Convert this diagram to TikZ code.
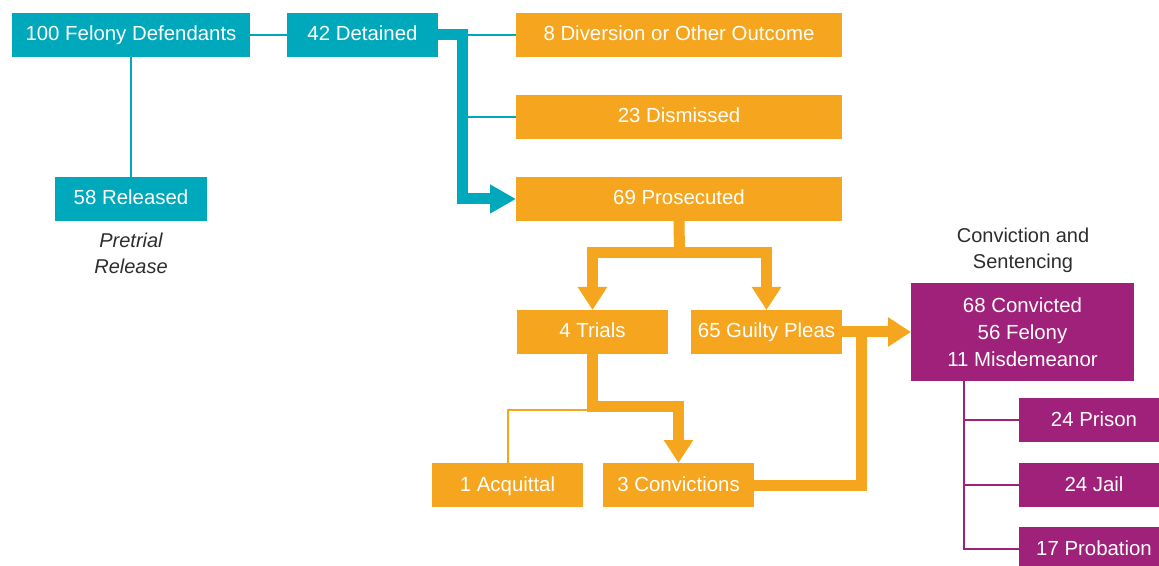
\documentclass[tikz,border=0pt]{standalone}
\usepackage{fontspec}
\setmainfont{Liberation Sans}
\usetikzlibrary{arrows.meta}
\definecolor{teal}{RGB}{0,168,187}
\definecolor{orng}{RGB}{246,166,30}
\definecolor{purp}{RGB}{160,33,122}
\definecolor{lbl}{RGB}{45,45,45}
\begin{document}
\begin{tikzpicture}[x=0.75pt,y=-0.75pt,
  bbase/.style={inner sep=0pt, outer sep=0pt, text=white, font=\fontsize{15.3}{20}\selectfont, minimum height=33pt, minimum width=113.25pt, align=center},
  bx/.style={bbase, text height=11pt, text depth=2pt},
  tbox/.style={bx, fill=teal},
  obox/.style={bx, fill=orng},
  pbox/.style={bx, fill=purp},
  lab/.style={text=lbl, font=\fontsize{15}{19.5}\selectfont, align=center},
  tthin/.style={draw=teal, line width=1.5pt},
  othin/.style={draw=orng, line width=1.5pt},
  pthin/.style={draw=purp, line width=1.5pt},
  tthick/.style={draw=teal, line width=8.25pt, miter limit=10, -{Triangle[length=19.5pt,width=20.5pt]}},
  othick/.style={draw=orng, line width=8.25pt, miter limit=10},
  oarr/.style={othick, -{Triangle[length=17.25pt,width=21pt]}}
]
\useasboundingbox (0,0) rectangle (1159,566);

% teal
\node[tbox, minimum width=178.5pt] (fel) at (131,35) {100 Felony Defendants};
\node[tbox] (det) at (362.5,35) {42 Detained};
\node[tbox, minimum width=114pt] (rel) at (131,199) {58 Released};
\node[lab, font=\fontsize{15}{19.5}\selectfont\itshape] (pre) at (131,253) {Pretrial\\Release};

% orange
\node[obox, minimum width=244.5pt] (div) at (679,35) {8 Diversion or Other Outcome};
\node[obox, minimum width=244.5pt] (dis) at (679,117) {23 Dismissed};
\node[obox, minimum width=244.5pt] (pros) at (679,199) {69 Prosecuted};
\node[obox] (tri) at (592.5,332) {4 Trials};
\node[obox] (gui) at (766.5,332) {65 Guilty Pleas};
\node[obox] (acq) at (507.5,485) {1 Acquittal};
\node[obox] (conv) at (678.5,485) {3 Convictions};

% purple
\node[lab] (cs) at (1023,250) {Conviction and\\Sentencing};
\node[bbase, fill=purp, minimum width=167.25pt, minimum height=73.5pt, font=\fontsize{15.3}{20.25}\selectfont] (cvd) at (1022.5,332) {68 Convicted\\56 Felony\\11 Misdemeanor};
\node[pbox, minimum width=112.5pt] (pri) at (1094,420) {24 Prison};
\node[pbox, minimum width=112.5pt] (jai) at (1094,485) {24 Jail};
\node[pbox, minimum width=112.5pt] (pro) at (1094,549) {17 Probation};

% teal connectors
\coordinate (tj) at (462,35);
\draw[tthin] (fel.east) -- (det.west);
\draw[tthin] (fel.south) -- (rel.north);
\draw[tthin] (tj) -- (div.west);
\draw[tthin] (tj |- dis.west) -- (dis.west);
\draw[tthick] (det.east) -- (tj) |- (pros.west);

% orange connectors
\coordinate (pj) at (679.5,252.5);
\draw[othick] (pros.south) -- (pj);
\draw[oarr] (pj) -| (tri.north);
\draw[oarr] (pj) -| (gui.north);
\coordinate (ta) at (592.5,409.5);
\draw[othin] (ta) -| (acq.north);
\coordinate (tc) at (592.5,406);
\draw[oarr] (tri.south) -- (tc) -| (conv.north);
\coordinate (gj) at (861.5,332);
\draw[othick] (conv.east) -| (gj);
\draw[oarr] (gui.east) -- (cvd.west);

% purple connectors
\coordinate (pv) at (964,381);
\draw[pthin] (pv) |- (pri.west);
\draw[pthin] (pv) |- (jai.west);
\draw[pthin] (pv) |- (pro.west);
\end{tikzpicture}
\end{document}
